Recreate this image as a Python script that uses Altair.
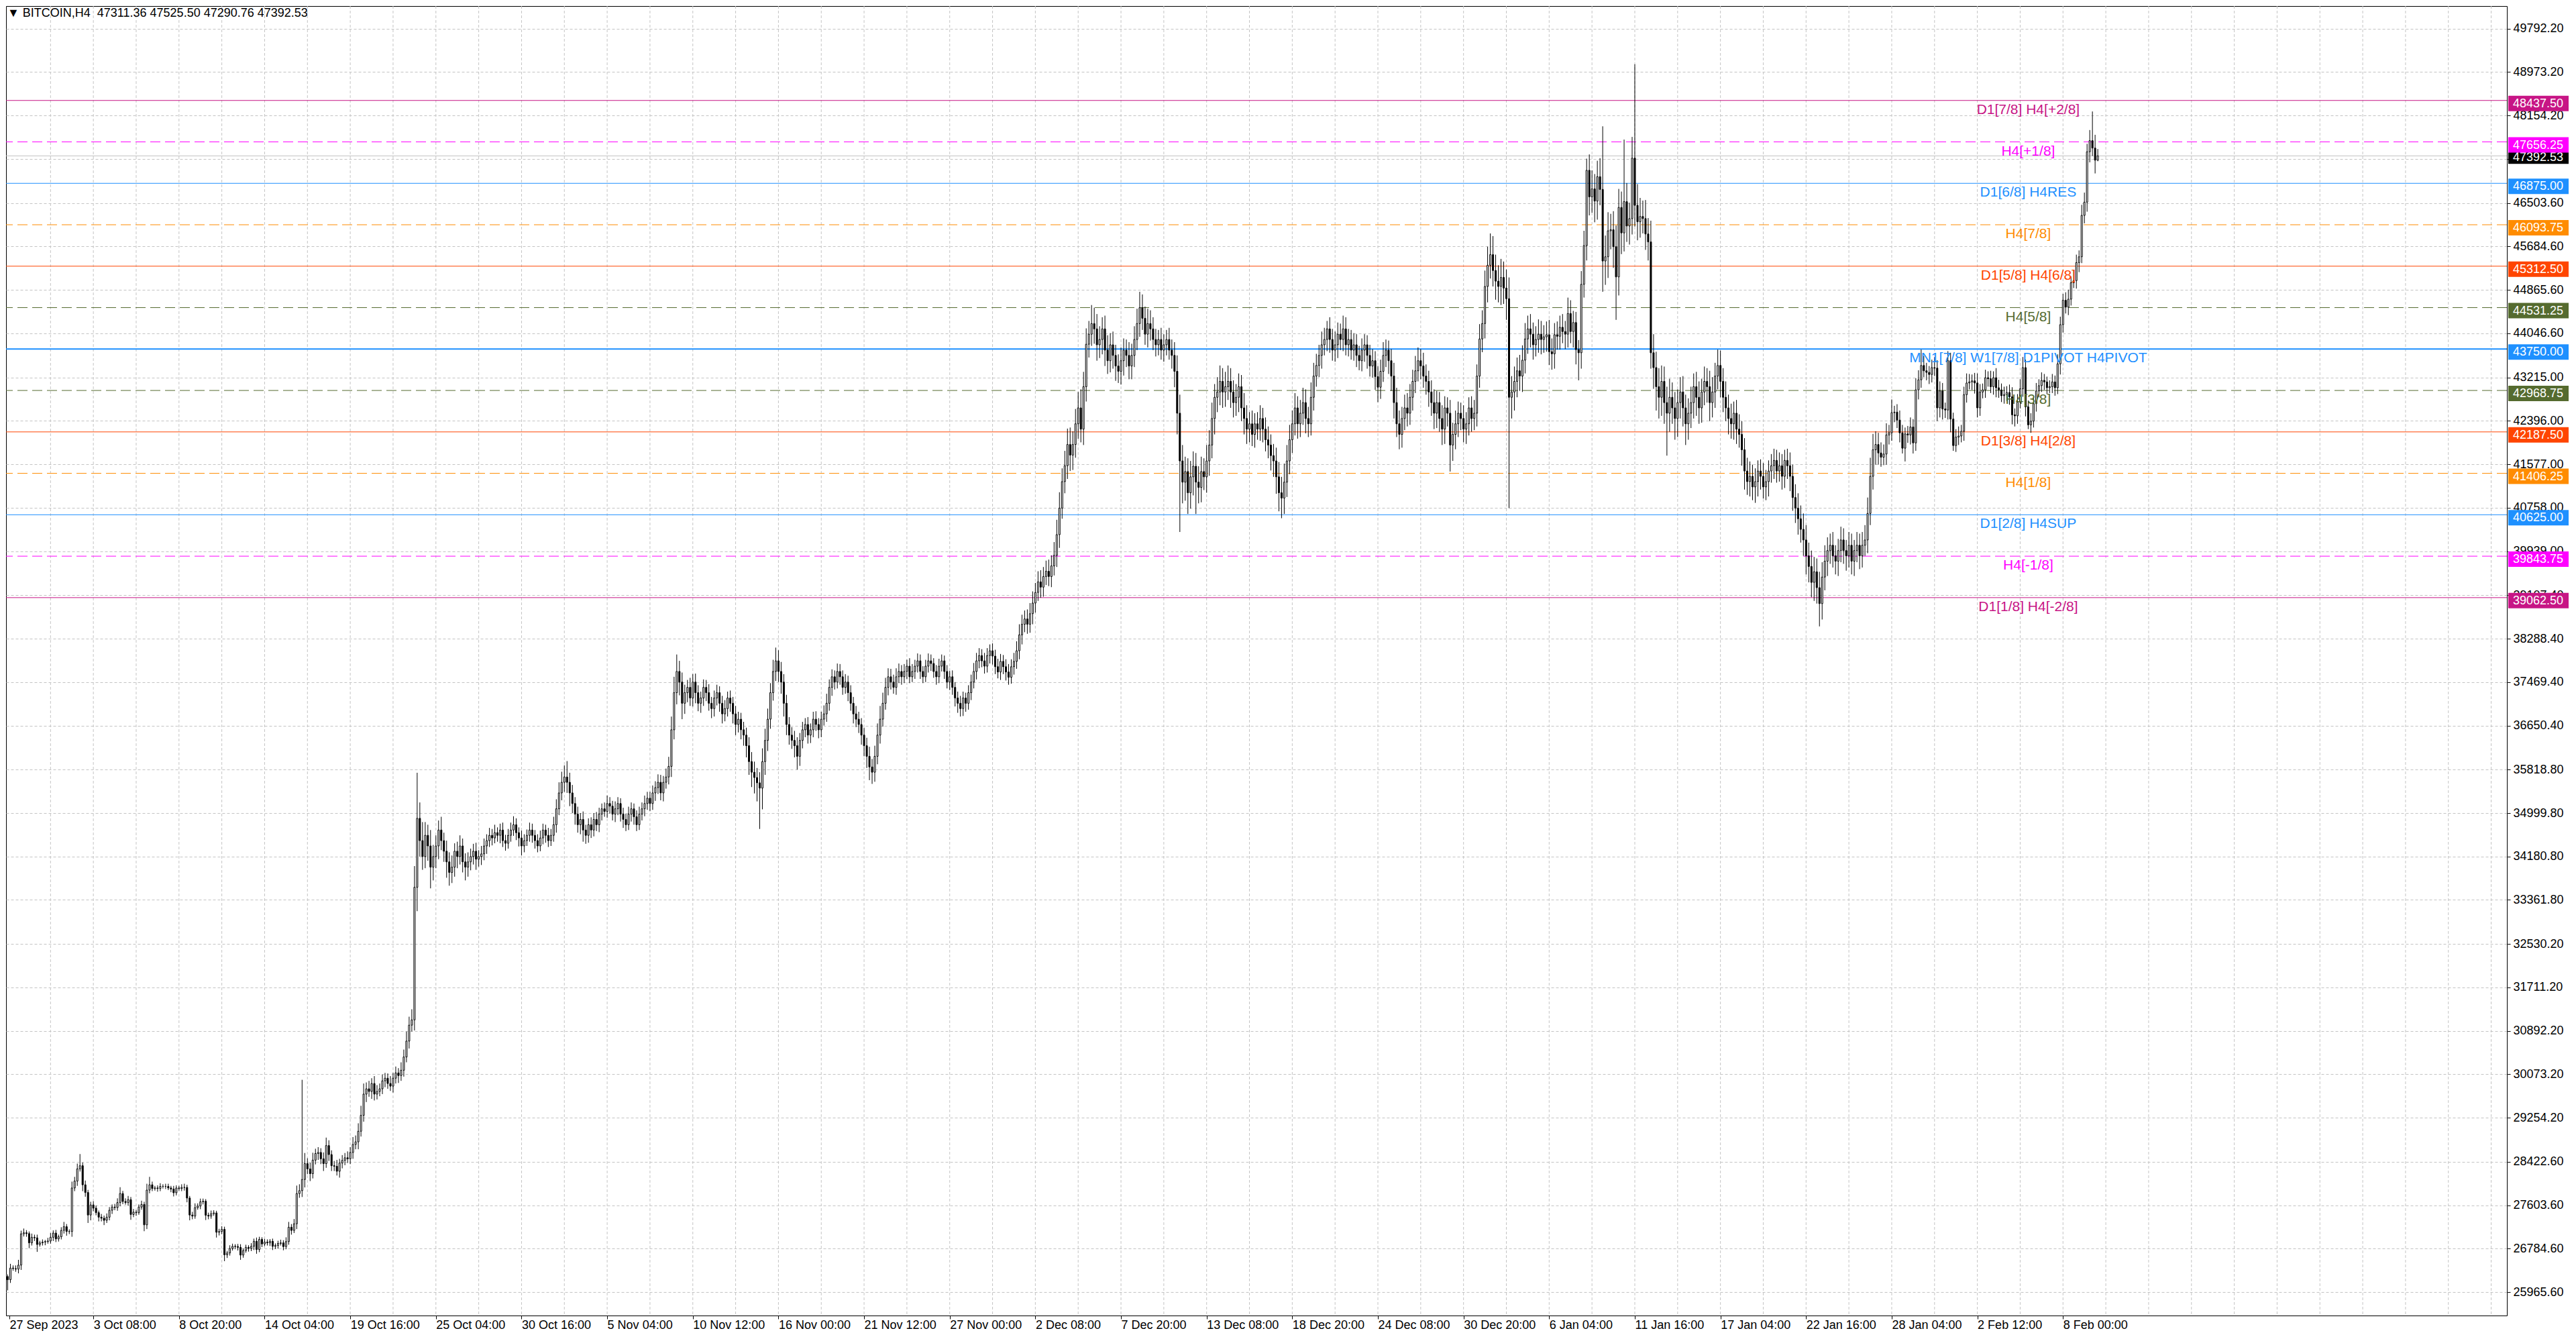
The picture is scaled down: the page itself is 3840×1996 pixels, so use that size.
import json
import altair as alt
import pandas as pd

# ---------------- data ----------------
first_open = 26260.0

# H4 closes, bar 0 = 27 Sep 2023
closes_a = [
    26200, 26420, 26410, 26400, 26475, 27065, 27085, 27070, 26895, 27000,
    26990, 26865, 26895, 26910, 26920, 26930, 27000, 27080, 26970, 27010,
    27130, 27200, 27110, 27110, 27930, 28060, 28290, 28350, 27990, 27845,
    27420, 27610, 27550, 27465, 27380, 27360, 27320, 27380, 27510, 27570,
    27560, 27655, 27825, 27675, 27655, 27710, 27430, 27475, 27465, 27570,
    27620, 27235, 27890, 27990, 27920, 27930, 27920, 27960, 27960, 27960,
    27930, 27910, 27840, 27930, 27920, 27940, 27940, 27740, 27420, 27400,
    27560, 27590, 27670, 27680, 27415, 27400, 27445, 27460, 27095, 27110,
    27150, 26670, 26705, 26790, 26830, 26825, 26810, 26665, 26750, 26810,
    26790, 26830, 26925, 26770, 26960, 26875, 26910, 26895, 26925, 26830,
    26845, 26885, 26895, 26825, 26920, 27190, 27130, 27255, 27825, 27880,
    28090, 28390, 28290, 28200, 28455, 28580, 28600, 28480, 28390, 28730,
    28560, 28350, 28340, 28245,
]
closes_b = [
    28400, 28450, 28500, 28480,
    28600, 28750, 28800, 29000, 29300, 29700,
    29800, 29750, 29900, 29700, 29750, 29800, 29950, 30000, 29900, 29850,
    30000, 30100, 30050, 30150, 30400, 30700,
    31000, 31100, 33600, 34900,
    34480, 34180, 34580, 34380, 33980, 34180, 34380, 34680, 34480, 34280, 34080, 33880,
    33980, 34280, 34180, 34380, 34080, 33980, 34080, 34180, 34280, 34130, 34180, 34230,
    34380, 34480, 34580, 34530, 34630, 34580, 34680, 34480, 34430, 34580, 34680, 34780,
    34630, 34530, 34380, 34480, 34580, 34680, 34580, 34480, 34380, 34530, 34680, 34580,
    34480, 34580, 34780, 35080, 35380, 35580,
    35680, 35580, 35380,
    35180, 34980, 34780, 34880, 34680, 34580, 34780, 34680, 34880, 34780, 34980, 35080,
    35030, 35180, 35130, 34980, 35080, 35180, 34980, 34880, 34780, 34980, 35080, 34930,
    34780, 34980, 35080, 35180, 35280, 35180,
    35380, 35480, 35580, 35380, 35580, 35680, 35880,
    36570, 37270, 37670, 37470, 37070, 37270,
]
closes_c = [
    37370, 37170, 37470, 37270, 37070, 37170, 37370, 37270, 37070, 36970, 37170,
    37270, 37070, 36870, 36970, 37170, 37070, 36870, 36670, 36770, 36570,
    36470, 36270, 35970, 35770, 35670, 35570, 35470,
    35970, 36370, 36770, 37270, 37670, 37870, 37670, 37470, 37070, 36670, 36470, 36370,
    36270, 36070, 36370, 36570, 36670, 36470, 36570, 36770, 36670, 36570, 36770, 36870,
    37070, 37370, 37570, 37470, 37670, 37570, 37370, 37470, 37270,
    37070, 36870, 36770, 36670, 36470, 36270, 36070,
    35870, 35770, 36070, 36470, 36770,
    37070, 37370, 37570, 37470, 37370, 37570, 37670,
    37570, 37670, 37770, 37570, 37670, 37770, 37870, 37670, 37570, 37770, 37870,
    37820, 37670, 37570, 37770, 37870, 37670, 37470, 37570, 37370, 37170,
    37070, 36970, 37170, 37070, 37270, 37470,
    37670, 37870, 37970, 37870, 37770, 37970,
    38060, 37960, 37760, 37660, 37860, 37760, 37660, 37560, 37760, 37860,
    38060, 38360, 38560, 38660, 38560, 38760,
    38960, 39160, 39360, 39260, 39460, 39560, 39460, 39660, 39860,
    40250, 40750, 41250, 41550, 41950, 41750,
    41950, 42340, 42640, 42240, 43040, 43840,
    44030, 44230, 44130,
]
closes_d = [
    43830, 43930, 44130, 43730, 43530, 43830, 43630, 43430, 43330, 43530, 43730, 43630,
    43430, 43630, 43930,
    44230, 44530, 44330, 44030, 44230, 44130, 43930,
    43830, 43930, 43730, 43830, 43930, 43730,
    43630, 43330, 42540, 41640, 41240, 41440, 41040,
    41340, 41540, 41240, 41140, 41440, 41340, 41640, 41940,
    42440, 42840, 42940, 43140, 42940, 43040,
    43140, 42940, 42740, 42840, 43040, 42640, 42440, 42240, 42340,
    42140, 42340, 42240, 42440, 42240, 42040, 41940, 41740, 41640,
    41340, 41040, 40940, 41240, 41640, 42040, 42340,
    42640, 42340, 42540, 42740, 42440, 42340, 42840, 43240, 43440,
    43630, 43830, 43930, 44130, 43930, 43730, 43830, 44030, 43930, 44130, 43830, 43930,
    43730, 43830, 43630, 43530, 43730, 43830, 43630, 43430, 43530, 43230, 43030, 43330,
    43630, 43730, 43530,
    43240, 42740, 42340, 42140, 42440, 42640, 42540,
    42840, 43140, 43340, 43530, 43430, 43240, 43140, 42940, 42740,
    42540, 42740, 42440, 42240, 42640, 42540, 41940, 42140, 42340,
    42540, 42440, 42240, 42340, 42640, 42440,
    42540, 43240, 43940, 44230, 44930, 45330, 45530, 45230, 45030, 44930,
    45100, 44900, 44700, 42840,
    42940, 43140, 43340, 43240, 43540,
    43940, 44130, 44030, 43830, 43930, 44030,
    43930,
]
closes_e = [
    43980, 44020, 43700, 43660, 44020, 43990, 44160, 44080, 44030, 44420, 44080, 44250,
    43740, 43680, 44970, 45700, 47120, 46620, 46770, 46540, 47000, 46760, 45410, 45490,
    45980, 46000, 45680, 45110, 46420, 45940, 46530, 46070, 46210, 47350, 46460, 46150,
    46250, 46210, 45920, 45770, 43680, 43400,
    43040, 42840, 43140, 42740, 42540, 42840, 42640, 42440, 42740, 42940, 42640, 42340,
    42540, 42740, 43040, 42840, 42640, 42940, 43140, 43040, 42740, 42940, 43240, 43440,
    43140, 42840,
    42640, 42440, 42340, 42540, 42240, 42140,
    41850, 41450, 41250, 41350, 41150, 41250, 41450, 41350, 41150, 41250,
    41450, 41550, 41650, 41450, 41550, 41350, 41650, 41550, 41350,
    40950, 40750, 40550, 40350, 40150, 39850,
    39650, 39350, 39550, 39250, 38950, 39450, 39750,
    39950, 40050, 39850, 39750, 39950, 40150, 39950, 39850, 40050, 39750, 39950, 40050,
    39850, 40050, 40150,
    40650, 41350, 41850, 41950,
]
closes_f = [
    41790, 41710, 41770, 42130, 42170, 42550, 42560, 42410, 42170, 41880,
    42150, 42130, 42280, 41980, 42980, 43170, 43440, 43340, 43310, 43270,
    43400, 43390, 42640, 42960, 42620, 42600, 43530, 42430, 41930, 42090,
    42110, 42200, 42890, 43110, 43130, 43150, 43110, 42640, 42940, 42980,
    43210, 43190, 43040, 43210, 43020, 42980, 42870, 42890, 42930, 42850,
    42510, 42490, 42750, 43000, 43400, 42660, 42320, 42390, 42720, 42960,
    43060, 43160, 43130, 43020, 43040, 43130, 43020, 43470, 44210, 44670,
    44540, 44690, 45000, 45040, 45380, 45490, 46270, 46520, 47470, 47680,
    47540, 47311.36, 47392.53,
]

# wick lengths above / below the body, in units of $10
wick_up_x10 = [
    4, 8, 5, 6, 10, 6, 8, 5, 4, 7, 5, 6, 4, 5, 3, 6, 8, 5, 6, 4,
    6, 9, 5, 4, 12, 8, 10, 22, 6, 8, 5, 6, 7, 5, 4, 6, 5, 7, 6, 5,
    6, 8, 12, 5, 6, 7, 5, 6, 4, 5, 7, 5, 12, 15, 6, 4, 5, 6, 4, 5,
    5, 4, 6, 5, 4, 6, 7, 5, 4, 6, 8, 5, 6, 5, 4, 5, 6, 5, 4, 5,
    6, 5, 4, 6, 5, 4, 5, 6, 4, 5, 4, 6, 5, 7, 5, 4, 6, 5, 4, 5,
    4, 5, 6, 5, 8, 10, 6, 9, 15, 12, 188, 20, 10, 12, 14, 9, 10, 8, 12, 15,
    10, 8, 9, 12, 8, 10, 9, 12, 10, 14, 12, 15, 18, 20, 12, 15, 10, 14, 12, 10,
    12, 10, 9, 14, 10, 12, 9, 15, 14, 18, 16, 20, 40, 86, 30, 35, 25, 20, 30, 22,
    20, 18, 25, 15, 20, 18, 22, 15, 18, 20, 14, 16, 18, 15, 14, 16, 12, 15, 14, 12,
    14, 12, 15, 10, 12, 14, 11, 12, 14, 16, 12, 10, 14, 12, 11, 14, 12, 10, 12, 14,
    12, 10, 14, 12, 15, 18, 20, 20, 22, 30, 18, 15, 12, 14, 12, 15, 10, 12, 14, 12,
    14, 12, 10, 12, 15, 12, 10, 14, 12, 10, 12, 11, 14, 12, 10, 12, 14, 12, 15, 12,
    12, 14, 12, 15, 14, 12, 16, 18, 25, 30, 32, 20, 18, 15, 14, 18, 15, 16, 14, 12,
    15, 14, 16, 12, 14, 15, 12, 14, 16, 12, 14, 12, 15, 14, 12, 15, 14, 16, 18, 20,
    18, 20, 25, 22, 20, 18, 22, 25, 20, 18, 15, 16, 14, 15, 18, 16, 14, 15, 12, 14,
    12, 14, 15, 12, 14, 16, 18, 15, 14, 12, 15, 14, 12, 15, 12, 14, 12, 15, 14, 12,
    14, 15, 18, 15, 20, 22, 25, 20, 18, 16, 15, 14, 16, 15, 12, 14, 12, 15, 14, 12,
    14, 12, 10, 12, 14, 12, 10, 12, 14, 12, 10, 12, 11, 12, 10, 12, 14, 12, 10, 14,
    14, 16, 15, 14, 12, 15, 14, 12, 14, 12, 15, 14, 12, 14, 15, 14, 16, 18, 20, 18,
    16, 18, 20, 22, 18, 20, 22, 18, 20, 22, 20, 25, 28, 30, 25, 28, 30, 32, 25, 28,
    30, 35, 28, 30, 25, 35, 30, 28, 25, 22, 25, 28, 22, 25, 20, 22, 25, 22, 20, 25,
    22, 25, 28, 30, 25, 22, 28, 25, 22, 20, 18, 22, 20, 18, 22, 20, 25, 30, 35, 30,
    28, 25, 30, 28, 25, 30, 28, 25, 30, 28, 30, 25, 28, 30, 25, 28, 30, 25, 22, 25,
    25, 22, 28, 25, 22, 25, 20, 22, 25, 20, 22, 25, 20, 22, 25, 28, 30, 35, 30, 28,
    25, 28, 22, 25, 28, 25, 22, 28, 25, 22, 20, 25, 22, 15, 22, 20, 25, 22, 20, 25,
    22, 20, 18, 22, 20, 18, 22, 20, 18, 20, 22, 18, 20, 22, 25, 20, 18, 22, 25, 28,
    25, 22, 25, 28, 25, 22, 28, 25, 22, 25, 22, 20, 22, 25, 22, 20, 25, 22, 20, 25,
    22, 25, 22, 20, 25, 22, 20, 22, 25, 22, 28, 25, 30, 35, 40, 35, 30, 30, 35, 30,
    35, 40, 30, 28, 25, 30, 28, 30, 25, 28, 22, 25, 28, 25, 22, 25, 28, 25, 22, 25,
    22, 25, 20, 30, 25, 22, 20, 18, 25, 28, 22, 30, 35, 28, 30, 35, 119, 40, 35, 30,
    35, 40, 35, 30, 117, 35, 30, 40, 177, 40, 35, 30, 35, 30, 40, 35, 30, 35, 30, 28,
    30, 35, 28, 30, 25, 28, 30, 25, 28, 30, 25, 28, 30, 25, 28, 25, 30, 28, 25, 30,
    28, 25, 30, 25, 28, 22, 25, 28, 25, 22, 25, 28, 22, 25, 20, 22, 25, 22, 20, 22,
    22, 20, 25, 22, 20, 22, 25, 22, 25, 28, 25, 30, 28, 25, 30, 28, 25, 30, 28, 30,
    25, 22, 25, 20, 22, 25, 22, 20, 25, 22, 20, 25, 22, 25, 28, 30, 35, 30, 25, 22,
    20, 18, 22, 15, 25, 12, 15, 18, 15, 12, 15, 18, 15, 22, 18, 30, 18, 15, 12, 15,
    20, 15, 18, 15, 12, 18, 15, 12, 15, 18, 12, 15, 18, 15, 12, 15, 18, 15, 12, 15,
    12, 15, 12, 18, 15, 12, 15, 12, 15, 18, 12, 15, 18, 20, 15, 12, 15, 12, 15, 12,
    15, 12, 10, 12, 15, 12, 18, 15, 12, 15, 18, 12, 20, 15, 12, 20, 18, 15, 20, 55,
    25, 13,
]
wick_dn_x10 = [
    20, 6, 4, 5, 8, 9, 5, 6, 10, 5, 6, 14, 4, 5, 6, 4, 5, 7, 6, 5,
    5, 6, 8, 5, 10, 6, 9, 5, 12, 8, 15, 10, 6, 5, 8, 6, 9, 5, 6, 7,
    5, 6, 7, 5, 4, 6, 10, 5, 6, 4, 5, 12, 8, 6, 5, 4, 6, 5, 4, 5,
    4, 6, 7, 5, 4, 5, 6, 8, 10, 6, 5, 4, 6, 5, 9, 6, 5, 4, 10, 6,
    5, 12, 6, 5, 4, 5, 6, 9, 5, 4, 6, 5, 7, 8, 5, 6, 4, 5, 6, 7,
    5, 6, 4, 7, 5, 6, 8, 5, 10, 8, 12, 15, 10, 14, 9, 8, 12, 10, 14, 8,
    12, 10, 9, 8, 12, 10, 9, 8, 10, 12, 9, 14, 10, 12, 15, 10, 14, 12, 10, 9,
    10, 12, 10, 9, 12, 10, 14, 10, 12, 10, 14, 12, 20, 45, 30, 25, 22, 28, 40, 25,
    22, 25, 18, 20, 30, 25, 20, 18, 22, 15, 20, 25, 18, 16, 15, 20, 14, 16, 12, 15,
    12, 14, 10, 12, 15, 12, 14, 10, 12, 11, 14, 16, 18, 12, 10, 12, 14, 15, 12, 10,
    12, 14, 12, 10, 12, 15, 12, 14, 18, 20, 25, 18, 20, 15, 18, 22, 16, 14, 15, 12,
    12, 14, 12, 10, 12, 14, 12, 15, 12, 14, 16, 12, 10, 14, 15, 12, 10, 12, 14, 12,
    14, 12, 15, 12, 14, 16, 12, 14, 20, 18, 22, 25, 30, 20, 18, 15, 16, 20, 15, 18,
    15, 16, 14, 18, 15, 14, 16, 18, 14, 15, 16, 18, 20, 15, 18, 20, 22, 25, 28, 30,
    35, 77, 40, 25, 20, 18, 15, 18, 20, 22, 25, 20, 18, 16, 22, 25, 18, 15, 14, 16,
    15, 14, 12, 16, 14, 12, 15, 14, 16, 14, 12, 15, 14, 12, 16, 14, 18, 15, 16, 18,
    20, 22, 25, 22, 18, 15, 16, 14, 12, 15, 14, 12, 14, 12, 15, 12, 14, 12, 10, 14,
    12, 14, 12, 10, 12, 14, 12, 15, 12, 10, 14, 12, 15, 14, 16, 18, 15, 14, 16, 12,
    14, 12, 15, 14, 12, 14, 12, 15, 16, 14, 12, 15, 14, 16, 14, 12, 15, 14, 16, 18,
    15, 18, 16, 20, 18, 16, 20, 18, 16, 18, 20, 18, 22, 25, 20, 22, 25, 30, 28, 25,
    28, 25, 30, 28, 25, 22, 28, 30, 25, 28, 30, 25, 22, 25, 28, 22, 25, 28, 22, 25,
    25, 22, 20, 25, 22, 20, 25, 22, 20, 22, 20, 18, 22, 20, 18, 25, 30, 40, 134, 40,
    35, 40, 30, 35, 60, 30, 28, 25, 30, 28, 25, 30, 28, 25, 30, 28, 25, 30, 28, 25,
    28, 25, 30, 28, 25, 22, 25, 20, 22, 25, 22, 25, 28, 30, 32, 35, 38, 30, 28, 25,
    25, 22, 28, 25, 22, 28, 25, 22, 25, 20, 22, 25, 20, 22, 25, 20, 22, 25, 20, 22,
    20, 22, 18, 20, 22, 18, 20, 22, 25, 20, 22, 25, 28, 22, 20, 22, 25, 28, 30, 25,
    28, 25, 22, 25, 22, 25, 22, 20, 25, 22, 25, 28, 25, 30, 28, 25, 30, 28, 25, 50,
    30, 28, 25, 22, 25, 28, 22, 25, 22, 25, 22, 25, 28, 30, 25, 30, 35, 30, 35, 30,
    40, 209, 40, 35, 30, 28, 30, 25, 28, 25, 28, 22, 25, 28, 25, 28, 25, 30, 28, 25,
    25, 22, 28, 25, 22, 30, 28, 52, 30, 25, 28, 35, 30, 40, 35, 30, 58, 45, 40, 35,
    40, 81, 35, 40, 35, 30, 35, 30, 40, 35, 30, 28, 30, 35, 30, 40, 45, 40, 35, 40,
    80, 35, 30, 40, 35, 30, 35, 40, 30, 28, 30, 35, 30, 28, 25, 30, 35, 28, 30, 25,
    30, 28, 25, 30, 28, 30, 28, 25, 30, 35, 25, 28, 25, 30, 28, 25, 22, 25, 28, 22,
    25, 22, 20, 25, 22, 25, 28, 25, 28, 30, 25, 30, 35, 30, 28, 35, 30, 43, 30, 25,
    28, 25, 22, 25, 28, 22, 25, 28, 22, 25, 28, 22, 25, 22, 20, 25, 22, 25, 28, 22,
    18, 15, 20, 18, 15, 18, 15, 18, 10, 25, 15, 18, 20, 15, 18, 15, 12, 15, 18, 15,
    15, 25, 18, 20, 15, 18, 25, 10, 12, 15, 12, 18, 15, 12, 15, 20, 18, 15, 12, 15,
    15, 12, 15, 18, 15, 12, 15, 12, 15, 18, 20, 15, 12, 15, 18, 8, 15, 12, 15, 12,
    12, 15, 12, 10, 12, 15, 12, 20, 15, 12, 15, 12, 10, 15, 18, 12, 15, 18, 20, 15,
    25, 2,
]

ytick_values = [
    49792.20, 48973.20, 48154.20, 47335.20, 46503.60, 45684.60, 44865.60, 44046.60,
    43215.00, 42396.00, 41577.00, 40758.00, 39939.00, 39107.40, 38288.40, 37469.40,
    36650.40, 35818.80, 34999.80, 34180.80, 33361.80, 32530.20, 31711.20, 30892.20,
    30073.20, 29254.20, 28422.60, 27603.60, 26784.60, 25965.60,
]
xtick_labels = [
    "27 Sep 2023", "3 Oct 08:00", "8 Oct 20:00", "14 Oct 04:00", "19 Oct 16:00",
    "25 Oct 04:00", "30 Oct 16:00", "5 Nov 04:00", "10 Nov 12:00", "16 Nov 00:00",
    "21 Nov 12:00", "27 Nov 00:00", "2 Dec 08:00", "7 Dec 20:00", "13 Dec 08:00",
    "18 Dec 20:00", "24 Dec 08:00", "30 Dec 20:00", "6 Jan 04:00", "11 Jan 16:00",
    "17 Jan 04:00", "22 Jan 16:00", "28 Jan 04:00", "2 Feb 12:00", "8 Feb 00:00",
]

level_prices = [48437.50, 47656.25, 46875.00, 46093.75, 45312.50, 44531.25, 43750.00,
                42968.75, 42187.50, 41406.25, 40625.00, 39843.75, 39062.50]
level_names = ["D1[7/8] H4[+2/8]", "H4[+1/8]", "D1[6/8] H4RES", "H4[7/8]",
               "D1[5/8] H4[6/8]", "H4[5/8]", "MN1[7/8] W1[7/8] D1PIVOT H4PIVOT",
               "H4[3/8]", "D1[3/8] H4[2/8]", "H4[1/8]", "D1[2/8] H4SUP",
               "H4[-1/8]", "D1[1/8] H4[-2/8]"]
last_price = 47392.53
title_text = "\u25BC\u00A0BITCOIN,H4\u00A0\u00A047311.36 47525.50 47290.76 47392.53"

# ---------------- styles / layout ----------------
level_colors = ["#C71585", "#FF00FF", "#1E90FF", "#FF8C00", "#FF4500", "#556B2F", "#1E90FF",
                "#556B2F", "#FF4500", "#FF8C00", "#1E90FF", "#FF00FF", "#C71585"]
level_dashed = [False, True, False, True, False, True, False,
                True, False, True, False, True, False]
level_widths = [1, 1, 1, 1, 1, 1, 2, 1, 1, 1, 1, 1, 1]

FONT = "Liberation Sans"
W, H = 3728, 1952
X_DOMAIN = [0.625, 932.625]     # 4 px per bar, bar centres on half pixels
Y_DOMAIN = [25525, 50218]
BARS_PER_LABEL = 32
BARS_PER_GRID = 16
LABEL_BAR = 755.0
GRID_COLOR = "#c4c4c4"

# ---------------- tables ----------------
closes = closes_a + closes_b + closes_c + closes_d + closes_e + closes_f
n = len(closes)
opens = [first_open] + closes[:-1]
highs = [max(o, c) + 10 * u for o, c, u in zip(opens, closes, wick_up_x10)]
lows = [min(o, c) - 10 * d for o, c, d in zip(opens, closes, wick_dn_x10)]
bars = pd.DataFrame({"i": list(range(n)), "open": opens, "close": closes,
                     "high": highs, "low": lows})

levels = pd.DataFrame({
    "price": level_prices, "name": level_names, "color": level_colors,
    "dashed": level_dashed, "width": level_widths,
    "label": [f"{p:.2f}" for p in level_prices],
})
cur = pd.DataFrame({"price": [last_price], "label": [f"{last_price:.2f}"]})
grid = pd.DataFrame({"i": list(range(BARS_PER_GRID, int(X_DOMAIN[1]) + 1, BARS_PER_GRID))})
title_df = pd.DataFrame({"t": [title_text]})

X_SCALE = alt.Scale(domain=X_DOMAIN, nice=False, zero=False)
Y_SCALE = alt.Scale(domain=Y_DOMAIN, nice=False, zero=False)
X_AX = alt.Axis(
    values=[X_DOMAIN[0]] + [BARS_PER_LABEL * k for k in range(1, len(xtick_labels))],
    labelExpr=f"{json.dumps(xtick_labels)}[round(datum.value / {BARS_PER_LABEL})]",
    grid=False, domain=False, ticks=True, tickSize=5, tickColor="black",
    labelAlign="left", labelBaseline="top", labelPadding=0, labelFontSize=18,
    labelFont=FONT, labelColor="black", labelOverlap=False, labelFlush=False,
    labelBound=False, title=None,
)
Y_AX = alt.Axis(
    orient="right", values=ytick_values, format=".2f", grid=True, gridDash=[4, 3],
    gridColor=GRID_COLOR, gridWidth=1, domain=False, tickSize=5, tickColor="black",
    labelPadding=4, labelFontSize=18, labelFont=FONT, labelColor="black",
    labelOverlap=False, labelFlush=False, labelBound=False, title=None,
)


def X(field):
    return alt.X(field, type="quantitative", scale=X_SCALE, axis=X_AX)


def Y(field):
    return alt.Y(field, type="quantitative", scale=Y_SCALE, axis=Y_AX)


vgrid = alt.Chart(grid).mark_rule(color=GRID_COLOR, strokeDash=[4, 3], strokeWidth=1).encode(x=X("i"))

solid_lines = alt.Chart(levels).transform_filter("!datum.dashed").mark_rule().encode(
    y=Y("price"),
    color=alt.Color("color:N", scale=None),
    strokeWidth=alt.StrokeWidth("width:Q", scale=None),
)
dashed_lines = alt.Chart(levels).transform_filter("datum.dashed").mark_rule(
    strokeDash=[15, 7]).encode(
    y=Y("price"),
    color=alt.Color("color:N", scale=None),
    strokeWidth=alt.StrokeWidth("width:Q", scale=None),
)
cur_line = alt.Chart(cur).mark_rule(color="#c0c0c0", strokeWidth=1).encode(y=Y("price"))

wicks = alt.Chart(bars).mark_rule(color="black", strokeWidth=1).encode(
    x=X("i"), y=Y("low"), y2="high")
bodies = alt.Chart(bars).mark_bar(size=2, stroke="black", strokeWidth=1).encode(
    x=X("i"), y=Y("open"), y2="close",
    fill=alt.condition("datum.close >= datum.open", alt.value("white"), alt.value("black")),
)

level_text = alt.Chart(levels).mark_text(
    align="center", baseline="alphabetic", dy=20, fontSize=21, font=FONT).encode(
    x=alt.datum(LABEL_BAR), y=Y("price"), text="name:N",
    color=alt.Color("color:N", scale=None),
)

cur_box = alt.Chart(cur).mark_rect(color="black", yOffset=12, y2Offset=-7).encode(
    x=alt.value(W + 2), x2=alt.value(W + 92), y=Y("price"), y2="price")
cur_box_text = alt.Chart(cur).mark_text(
    align="left", baseline="middle", dy=3, color="white", fontSize=18, font=FONT).encode(
    x=alt.value(W + 9), y=Y("price"), text="label:N")
boxes = alt.Chart(levels).mark_rect(yOffset=16, y2Offset=-7).encode(
    x=alt.value(W + 2), x2=alt.value(W + 92), y=Y("price"), y2="price",
    color=alt.Color("color:N", scale=None))
box_text = alt.Chart(levels).mark_text(
    align="left", baseline="middle", dy=5, color="white", fontSize=18, font=FONT).encode(
    x=alt.value(W + 9), y=Y("price"), text="label:N")

title_l = alt.Chart(title_df).mark_text(
    align="left", baseline="middle", fontSize=18, font=FONT, color="black").encode(
    x=alt.value(2), y=alt.value(11), text="t:N")

chart = alt.layer(
    vgrid, solid_lines, dashed_lines, cur_line, wicks, bodies, level_text,
    cur_box, cur_box_text, boxes, box_text, title_l,
).properties(width=W, height=H, padding=0, background="white").configure_view(
    stroke="black", strokeWidth=1)

chart.save("out.html", embed_options={"renderer": "svg", "actions": False})
